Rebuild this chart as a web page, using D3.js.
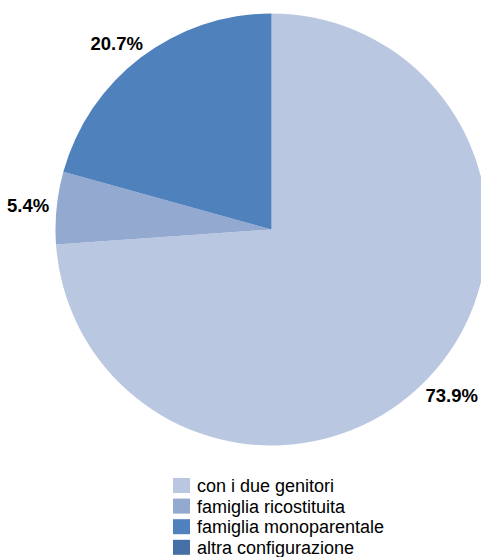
<!DOCTYPE html>
<html>
<head>
<meta charset="utf-8">
<script src="https://cdn.jsdelivr.net/npm/d3@7"></script>
<style>
  html, body { margin: 0; padding: 0; background: #fff; }
  svg { display: block; }
</style>
</head>
<body>
<svg id="chart" width="481" height="557"></svg>
<script>
// Family configuration shares (%)
const categories = ["con i due genitori", "famiglia ricostituita", "famiglia monoparentale", "altra configurazione"];
const values = [73.9, 5.4, 20.7, 0.0];
const colors = ["#BAC7E0", "#93A9D0", "#4F81BD", "#4470A5"];
const valueLabels = ["73.9%", "5.4%", "20.7%", ""];

const width = 481;
const svg = d3.select("#chart");
const cx = 271.5, cy = 229.5, radius = 216;
const labelFont = 18.5;
const capHeight = 0.716 * labelFont;

const data = categories.map((c, i) => ({ name: c, value: values[i], color: colors[i], label: valueLabels[i] }));

const pie = d3.pie().value(d => d.value).sort(null);
const arc = d3.arc().innerRadius(0).outerRadius(radius);

const g = svg.append("g").attr("transform", `translate(${cx},${cy})`);
const arcs = pie(data);

g.selectAll("path")
  .data(arcs.filter(d => d.data.value > 0))
  .join("path")
  .attr("d", arc)
  .attr("fill", d => d.data.color);

// Value labels outside the rim along each slice's mid-angle; the label box
// is pushed clear of the rim and kept inside the drawing area.
const labels = g.selectAll("text.val")
  .data(arcs.filter(d => d.data.label))
  .join("text")
  .attr("class", "val")
  .style("font-family", "'Liberation Sans', Arial, sans-serif")
  .style("font-weight", "bold")
  .style("font-size", labelFont + "px")
  .attr("fill", "#000")
  .text(d => d.data.label);

labels.each(function(d) {
  const w = this.getComputedTextLength();
  const a = (d.startAngle + d.endAngle) / 2;
  const dx = Math.sin(a), dy = -Math.cos(a);
  // box corner touching the rim
  const r1 = radius + 6;
  const c1x = r1 * dx + Math.sign(dx) * w / 2;
  const c1y = r1 * dy + Math.sign(dy) * capHeight / 2;
  // box centre on the ray
  const r2 = radius + 30;
  const c2x = r2 * dx, c2y = r2 * dy;
  let x = (c1x + c2x) / 2;
  const y = (c1y + c2y) / 2 + 3;
  const maxX = width - cx - w / 2 - 3;
  const minX = -cx + w / 2 + 3;
  x = Math.max(minX, Math.min(maxX, x));
  d3.select(this)
    .attr("text-anchor", "middle")
    .attr("x", x)
    .attr("y", y + capHeight / 2);
});

// Legend
const legend = svg.append("g").attr("transform", "translate(173,478)");
const row = legend.selectAll("g")
  .data(data)
  .join("g")
  .attr("transform", (d, i) => `translate(0,${i * 20.6})`);
row.append("rect")
  .attr("width", 17).attr("height", 15)
  .attr("fill", d => d.color);
row.append("text")
  .attr("x", 24).attr("y", 14)
  .style("font-family", "'Liberation Sans', Arial, sans-serif")
  .style("font-size", "18px")
  .attr("fill", "#000")
  .text(d => d.name);
</script>
</body>
</html>
